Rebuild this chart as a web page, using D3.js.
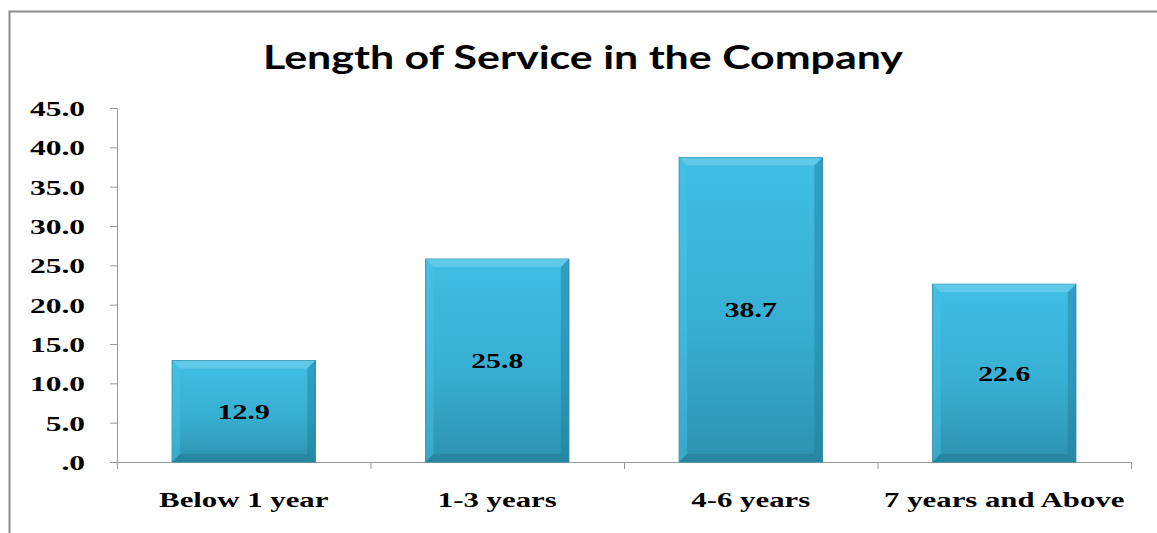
<!DOCTYPE html>
<html>
<head>
<meta charset="utf-8">
<script src="https://cdn.jsdelivr.net/npm/d3@7"></script>
<style>
  body { margin: 0; background: #fff; }
  svg { display: block; }
</style>
</head>
<body>
<div id="chart"></div>
<script>
  // data
  var categories = ["Below 1 year", "1-3 years", "4-6 years", "7 years and Above"];
  var values = [12.9, 25.8, 38.7, 22.6];
  var yTicks = [0, 5, 10, 15, 20, 25, 30, 35, 40, 45];
  var chartTitle = "Length of Service in the Company";

  var W = 1157, H = 533;
  var margin = { top: 108, right: 26, bottom: 71, left: 117 };
  var width = W - margin.left - margin.right,
      height = H - margin.top - margin.bottom;
  var serif = "'Liberation Serif', 'Times New Roman', serif";

  var svg = d3.select("#chart")
      .append("svg")
      .attr("width", W)
      .attr("height", H);

  // outer frame (only top and left edges visible)
  svg.append("path")
      .attr("d", "M9.5," + H + " V11.5 H" + W)
      .attr("fill", "none")
      .attr("stroke", "#8c8c8c")
      .attr("stroke-width", 2);

  var defs = svg.append("defs");
  var grad = defs.append("linearGradient")
      .attr("id", "barGrad")
      .attr("x1", 0).attr("y1", 0).attr("x2", 0).attr("y2", 1);
  grad.append("stop").attr("offset", "0%").attr("stop-color", "#3fbee4");
  grad.append("stop").attr("offset", "55%").attr("stop-color", "#38afd2");
  grad.append("stop").attr("offset", "100%").attr("stop-color", "#2d92ae");

  // the source picture is stretched sideways, so text is too
  function stretch(sx) {
      return function (sel) {
          sel.attr("transform", function () {
              var t = d3.select(this);
              var tx = +t.attr("x") || 0, ty = +t.attr("y") || 0;
              t.attr("x", 0).attr("y", 0);
              return "translate(" + tx + "," + ty + ") scale(" + sx + ",1)";
          });
      };
  }

  svg.append("text")
      .attr("x", 583)
      .attr("y", 69)
      .attr("text-anchor", "middle")
      .attr("font-family", "Lato, 'Open Sans', sans-serif")
      .attr("font-weight", "bold")
      .attr("font-size", 33)
      .attr("fill", "#000")
      .text(chartTitle)
      .call(stretch(1.3));

  var g = svg.append("g")
      .attr("transform", "translate(" + margin.left + "," + margin.top + ")");

  var x = d3.scaleBand()
      .domain(categories)
      .range([0, width])
      .paddingInner(0.435)
      .paddingOuter(0.2175);

  var y = d3.scaleLinear()
      .domain([0, 45])
      .range([height, 0]);

  // y axis
  var yAxis = g.append("g")
      .call(d3.axisLeft(y)
          .tickValues(yTicks)
          .tickSize(7)
          .tickPadding(25)
          .tickFormat(function (d) { return d === 0 ? ".0" : d3.format(".1f")(d); }));
  yAxis.select(".domain").attr("stroke", "#9a9a9a").attr("d", "M-7,0.5H0.5V" + height);
  yAxis.selectAll(".tick line").attr("stroke", "#9a9a9a");
  yAxis.selectAll(".tick text")
      .attr("font-family", serif)
      .attr("font-weight", "bold")
      .attr("font-size", 21)
      .attr("fill", "#000")
      .attr("dy", "0.35em")
      .call(stretch(1.5));

  // x axis with boundary ticks
  var xAxis = g.append("g").attr("transform", "translate(0," + height + ")");
  xAxis.append("line")
      .attr("x1", 0).attr("x2", width)
      .attr("y1", 0.5).attr("y2", 0.5)
      .attr("stroke", "#9a9a9a");
  xAxis.selectAll(".bound")
      .data(d3.range(categories.length + 1))
      .enter().append("line")
      .attr("x1", function (i) { return i * width / categories.length + 0.5; })
      .attr("x2", function (i) { return i * width / categories.length + 0.5; })
      .attr("y1", 0).attr("y2", 7)
      .attr("stroke", "#9a9a9a");
  xAxis.selectAll(".cat")
      .data(categories)
      .enter().append("text")
      .attr("x", function (d) { return x(d) + x.bandwidth() / 2; })
      .attr("y", 45)
      .attr("text-anchor", "middle")
      .attr("font-family", serif)
      .attr("font-weight", "bold")
      .attr("font-size", 22)
      .text(function (d) { return d; })
      .call(stretch(1.4));

  // bars with a bevelled look
  var bev = 8;
  var bars = g.selectAll(".bar")
      .data(values)
      .enter().append("g")
      .attr("class", "bar");

  bars.append("rect")
      .attr("x", function (d, i) { return x(categories[i]); })
      .attr("y", function (d) { return y(d); })
      .attr("width", x.bandwidth())
      .attr("height", function (d) { return height - y(d); })
      .attr("fill", "url(#barGrad)")
      .attr("stroke", "#2a8aa6")
      .attr("stroke-width", 1);

  // top bevel
  bars.append("path")
      .attr("d", function (d, i) {
          var x0 = x(categories[i]), x1 = x0 + x.bandwidth(), y0 = y(d);
          return "M" + x0 + "," + y0 + "H" + x1 + "L" + (x1 - bev) + "," + (y0 + bev) +
              "H" + (x0 + bev) + "Z";
      })
      .attr("fill", "#6fcfeb")
      .attr("opacity", 0.7);
  // left bevel
  bars.append("path")
      .attr("d", function (d, i) {
          var x0 = x(categories[i]), y0 = y(d), y1 = height;
          return "M" + x0 + "," + y0 + "L" + (x0 + bev) + "," + (y0 + bev) +
              "V" + (y1 - bev) + "L" + x0 + "," + y1 + "Z";
      })
      .attr("fill", "#4cc3e6")
      .attr("opacity", 0.45);
  // right bevel
  bars.append("path")
      .attr("d", function (d, i) {
          var x1 = x(categories[i]) + x.bandwidth(), y0 = y(d), y1 = height;
          return "M" + x1 + "," + y0 + "L" + (x1 - bev) + "," + (y0 + bev) +
              "V" + (y1 - bev) + "L" + x1 + "," + y1 + "Z";
      })
      .attr("fill", "#1f7d98")
      .attr("opacity", 0.45);
  // bottom bevel
  bars.append("path")
      .attr("d", function (d, i) {
          var x0 = x(categories[i]), x1 = x0 + x.bandwidth(), y1 = height;
          return "M" + x0 + "," + y1 + "H" + x1 + "L" + (x1 - bev) + "," + (y1 - bev) +
              "H" + (x0 + bev) + "Z";
      })
      .attr("fill", "#1f7890")
      .attr("opacity", 0.45);

  bars.append("text")
      .attr("x", function (d, i) { return x(categories[i]) + x.bandwidth() / 2; })
      .attr("y", function (d) { return (y(d) + height) / 2; })
      .attr("dy", "0.35em")
      .attr("text-anchor", "middle")
      .attr("font-family", serif)
      .attr("font-weight", "bold")
      .attr("font-size", 22)
      .attr("fill", "#000")
      .text(function (d) { return d3.format(".1f")(d); })
      .call(stretch(1.35));
</script>
</body>
</html>
